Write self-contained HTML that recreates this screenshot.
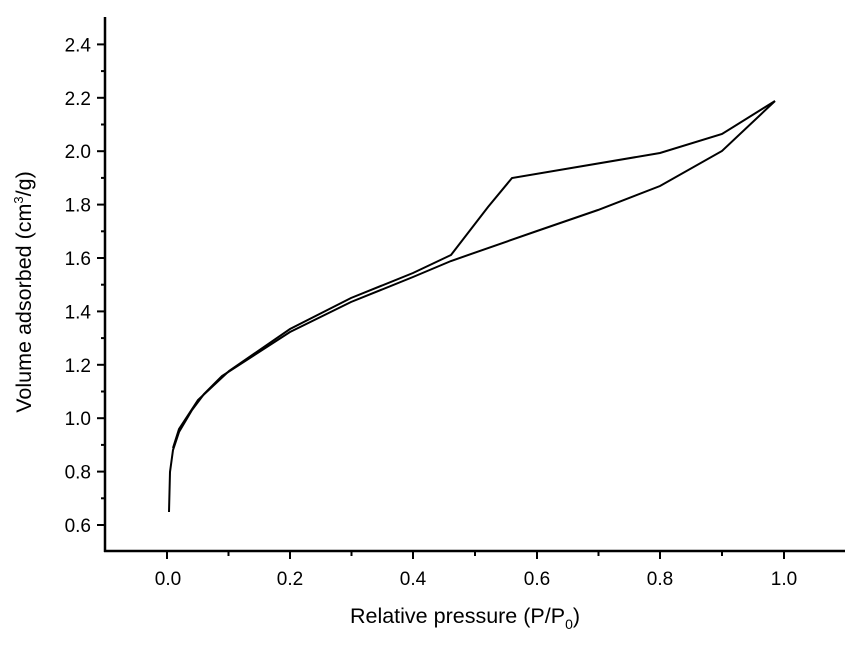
<!DOCTYPE html>
<html><head><style>body{margin:0;background:#fff}</style></head><body>
<svg width="859" height="643" viewBox="0 0 859 643" xmlns="http://www.w3.org/2000/svg" font-family="Liberation Sans, Arial, sans-serif">
<g stroke="#000" stroke-width="2.5" fill="none">
<line x1="105" y1="17" x2="105" y2="552"/>
<line x1="104" y1="551" x2="845" y2="551"/>
</g>
<g stroke="#000" stroke-width="2">
<line x1="97" y1="525" x2="105" y2="525"/><line x1="97" y1="471.6" x2="105" y2="471.6"/><line x1="97" y1="418.2" x2="105" y2="418.2"/><line x1="97" y1="364.8" x2="105" y2="364.8"/><line x1="97" y1="311.4" x2="105" y2="311.4"/><line x1="97" y1="258" x2="105" y2="258"/><line x1="97" y1="204.6" x2="105" y2="204.6"/><line x1="97" y1="151.2" x2="105" y2="151.2"/><line x1="97" y1="97.8" x2="105" y2="97.8"/><line x1="97" y1="44.4" x2="105" y2="44.4"/>
<line x1="101" y1="498.3" x2="105" y2="498.3"/><line x1="101" y1="444.9" x2="105" y2="444.9"/><line x1="101" y1="391.5" x2="105" y2="391.5"/><line x1="101" y1="338.1" x2="105" y2="338.1"/><line x1="101" y1="284.7" x2="105" y2="284.7"/><line x1="101" y1="231.3" x2="105" y2="231.3"/><line x1="101" y1="177.9" x2="105" y2="177.9"/><line x1="101" y1="124.5" x2="105" y2="124.5"/><line x1="101" y1="71.1" x2="105" y2="71.1"/>
<line x1="167" y1="551" x2="167" y2="559"/><line x1="290" y1="551" x2="290" y2="559"/><line x1="413" y1="551" x2="413" y2="559"/><line x1="537" y1="551" x2="537" y2="559"/><line x1="660" y1="551" x2="660" y2="559"/><line x1="784" y1="551" x2="784" y2="559"/>
<line x1="228.5" y1="551" x2="228.5" y2="556"/><line x1="351.5" y1="551" x2="351.5" y2="556"/><line x1="475" y1="551" x2="475" y2="556"/><line x1="598.5" y1="551" x2="598.5" y2="556"/><line x1="722" y1="551" x2="722" y2="556"/>
</g>
<g font-size="19" text-anchor="end">
<text x="91" y="532">0.6</text><text x="91" y="478.6">0.8</text><text x="91" y="425.2">1.0</text><text x="91" y="371.8">1.2</text><text x="91" y="318.4">1.4</text><text x="91" y="265">1.6</text><text x="91" y="211.6">1.8</text><text x="91" y="158.2">2.0</text><text x="91" y="104.8">2.2</text><text x="91" y="51.4">2.4</text>
</g>
<g font-size="19" text-anchor="middle">
<text x="168" y="585">0.0</text><text x="290" y="585">0.2</text><text x="413" y="585">0.4</text><text x="537" y="585">0.6</text><text x="660" y="585">0.8</text><text x="784" y="585">1.0</text>
</g>
<text x="465" y="623" font-size="21.5" text-anchor="middle">Relative pressure (P/P<tspan font-size="14" dy="6">0</tspan><tspan dy="-6">)</tspan></text>
<text transform="translate(31,292) rotate(-90)" font-size="21.5" text-anchor="middle">Volume adsorbed (cm<tspan font-size="13" dy="-8">3</tspan><tspan dy="8">/g)</tspan></text>
<g stroke="#000" stroke-width="2" fill="none">
<polyline points="169,512 170,472 173,450 179,432 192,410 204,394 222,376 290,332 351,302 413,277 451,261 537,231 598,210 660,186 722,151 775,101"/>
<polyline points="775,101 722,134 660,153 512,178 488,207 451,255 413,273 351,298 290,329 229,371 198,400 179,429 173,448"/>
</g>
</svg>
</body></html>
